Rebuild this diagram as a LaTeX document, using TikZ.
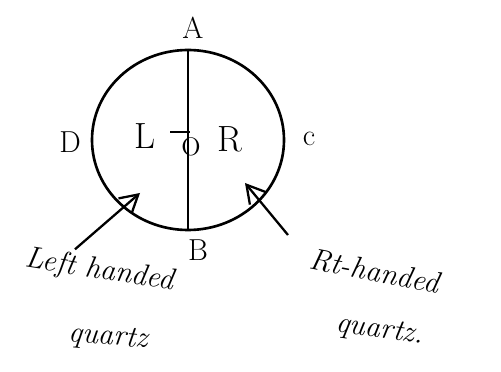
\documentclass[tikz,border=0pt]{standalone}
\usepackage{tikz}
\usetikzlibrary{arrows.meta,positioning,shapes.geometric,calc}

\begin{document}
\begin{tikzpicture}[
    lbl/.style={font=\LARGE, inner sep=0pt},
    hand/.style={font=\LARGE\itshape, inner sep=1pt, align=center},
    arr/.style={-{Straight Barb[length=3.5mm,width=4mm]}, line width=1.3pt}
  ]
  \useasboundingbox (0,0) rectangle (10.02,7.42);
  \node[ellipse, draw, line width=1.5pt, minimum width=3.84cm, minimum height=3.6cm, inner sep=0pt] (disc) at (3.76,4.62) {};
  \draw[line width=1.4pt] (disc.north) -- (disc.south);
  \draw[line width=1.2pt] ($(disc.center)+(-0.36,0.16)$) -- ($(disc.center)+(0.04,0.16)$);
  \node[lbl] (A) at (3.86,6.86) {A};
  \node[lbl] (B) at (3.96,2.42) {B};
  \node[lbl] (D) at (1.4,4.58) {D};
  \node[lbl] (C) at (6.18,4.64) {c};
  \node[font=\huge, inner sep=0pt] (L) at (2.9,4.7) {L};
  \node[font=\huge, inner sep=0pt] (R) at (4.6,4.64) {R};
  \node[font=\Large, inner sep=0pt] (O) at (3.82,4.48) {O};
  % labels below the disc
  \node[hand, rotate=-9] (lhq) at (2.0,2.0) {Left handed};
  \node[hand, rotate=-5] (lq) at (2.16,0.66) {quartz};
  \node[hand, rotate=-11] (rhq) at (7.5,2.0) {Rt-handed};
  \node[hand, rotate=-8] (rq) at (7.6,0.8) {quartz.};
  \coordinate (ltip) at (2.8,3.56);
  \coordinate (rtip) at (4.9,3.76);
  \coordinate (rtail) at (5.76,2.72);
  \draw[arr] ([xshift=-0.55cm,yshift=0.12cm]lhq.north) -- (ltip);
  \draw[arr] (rtail) -- (rtip);
\end{tikzpicture}
\end{document}
